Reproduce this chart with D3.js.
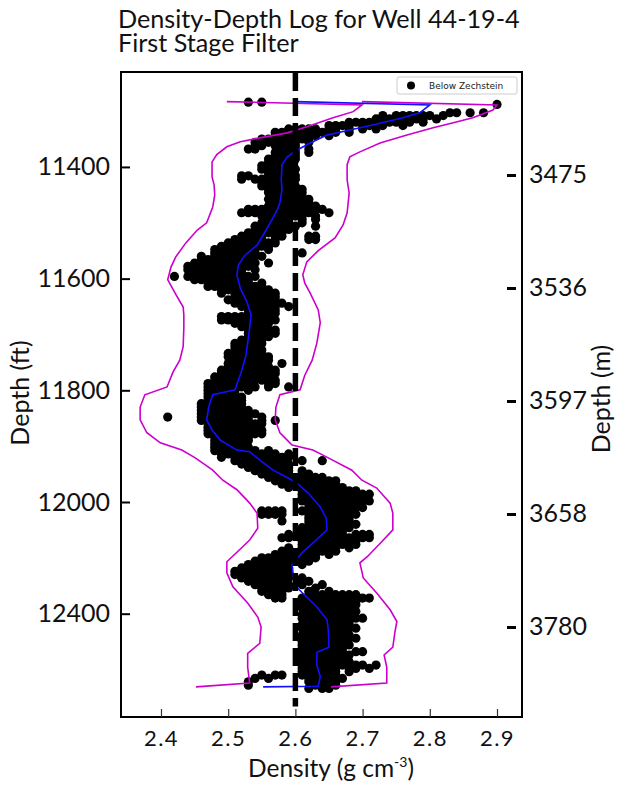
<!DOCTYPE html>
<html><head><meta charset="utf-8">
<script src="https://cdn.jsdelivr.net/npm/d3@7"></script>
<style>body{margin:0;background:#fff}svg{display:block}</style>
</head><body>
<svg id="chart" width="617" height="789"></svg>
<script>
// ---------------- data ----------------
const titleLines = ["Density-Depth Log for Well 44-19-4", "First Stage Filter"];
const xTickValues = [2.4, 2.5, 2.6, 2.7, 2.8, 2.9];
const ftTickValues = [11400, 11600, 11800, 12000, 12200];
const ftTickLabels = ["11400", "11600", "11800", "12000", "12400"];
const mTickValues = [3475, 3536, 3597, 3658, 3719];
const mTickLabels = ["3475", "3536", "3597", "3658", "3780"];
const legendLabel = "Below Zechstein";
const refDensity = 2.6;
const refDepthRange = [11232, 12366];

// density samples: [depth ft, [densities g/cc]]
const sampleRows = [
[11284,[2.53,2.55]],[11288,[2.90]],[11303,[2.83,2.84,2.86,2.88]],
[11308,[2.73,2.75,2.76,2.77,2.78,2.79,2.80,2.82]],
[11314,[2.72,2.73,2.74,2.76,2.78,2.79,2.81]],
[11320,[2.68,2.69,2.70,2.71,2.72,2.74,2.75,2.77,2.79]],
[11326,[2.65,2.66,2.67,2.68,2.70,2.71,2.73,2.76]],
[11332,[2.59,2.60,2.61,2.62,2.63,2.65,2.66,2.68,2.70,2.72]],
[11338,[2.57,2.58,2.59,2.61,2.62,2.63,2.64,2.66,2.68]],
[11344,[2.57,2.58,2.59,2.60,2.61,2.62,2.63,2.65]],
[11350,[2.55,2.56,2.57,2.58,2.59,2.60,2.61,2.62]],
[11356,[2.54,2.55,2.56,2.57,2.58,2.59,2.60,2.62]],
[11362,[2.54,2.55,2.57,2.58,2.59,2.60]],
[11368,[2.53,2.54,2.58,2.59,2.60,2.62]],
[11374,[2.57,2.58,2.59,2.60,2.62]],
[11380,[2.57,2.58,2.59,2.60]],
[11386,[2.56,2.57,2.58,2.59,2.60]],
[11392,[2.56,2.57,2.58,2.59]],
[11398,[2.55,2.56,2.58,2.59]],
[11404,[2.55,2.56,2.57,2.59,2.60]],
[11410,[2.56,2.57,2.58,2.59]],
[11416,[2.52,2.53,2.56,2.57,2.58,2.59,2.60]],
[11422,[2.52,2.54,2.55,2.57,2.58,2.59,2.60]],
[11428,[2.55,2.56,2.57,2.58,2.59]],
[11434,[2.55,2.56,2.57,2.59,2.60]],
[11440,[2.56,2.57,2.58,2.59,2.60,2.61]],
[11446,[2.56,2.57,2.58,2.59,2.61]],
[11452,[2.57,2.58,2.59,2.60,2.61]],
[11458,[2.56,2.57,2.58,2.60,2.61,2.62]],
[11464,[2.57,2.58,2.59,2.60,2.62]],
[11470,[2.56,2.58,2.59,2.60,2.61,2.63]],
[11476,[2.53,2.54,2.55,2.56,2.57,2.58,2.59,2.60,2.62,2.63,2.64]],
[11482,[2.52,2.53,2.54,2.56,2.58,2.59,2.61,2.62,2.65]],
[11488,[2.55,2.56,2.57,2.58,2.60,2.61,2.63]],
[11494,[2.56,2.57,2.58,2.59,2.61,2.63]],
[11500,[2.55,2.56,2.57,2.58,2.59,2.61]],
[11506,[2.54,2.55,2.57,2.58,2.60,2.63]],
[11512,[2.54,2.55,2.56,2.57,2.58,2.59]],
[11518,[2.53,2.54,2.55,2.56,2.57,2.58]],
[11524,[2.52,2.53,2.54,2.55,2.57,2.58,2.62,2.63]],
[11530,[2.51,2.52,2.53,2.54,2.55,2.57,2.62,2.63]],
[11536,[2.50,2.51,2.52,2.53,2.54,2.55,2.56,2.57]],
[11542,[2.49,2.50,2.51,2.52,2.54,2.55,2.56]],
[11548,[2.48,2.49,2.50,2.52,2.53,2.54,2.56]],
[11554,[2.48,2.49,2.50,2.51,2.53,2.54,2.61]],
[11560,[2.46,2.48,2.49,2.50,2.51,2.52,2.54,2.55]],
[11566,[2.46,2.47,2.48,2.49,2.50,2.52,2.53]],
[11572,[2.45,2.46,2.47,2.49,2.50,2.51,2.53,2.54,2.56]],
[11578,[2.44,2.45,2.46,2.47,2.48,2.50,2.51,2.52,2.53]],
[11584,[2.44,2.45,2.47,2.48,2.49,2.50,2.52,2.54]],
[11590,[2.45,2.46,2.47,2.49,2.50,2.51,2.52]],
[11596,[2.42,2.44,2.45,2.46,2.48,2.49,2.50,2.51,2.53,2.54]],
[11602,[2.45,2.46,2.47,2.48,2.49,2.51,2.52,2.53]],
[11608,[2.47,2.48,2.49,2.50,2.52,2.53,2.55]],
[11614,[2.47,2.48,2.50,2.51,2.52,2.54,2.55]],
[11620,[2.49,2.50,2.51,2.52,2.53,2.55,2.56]],
[11626,[2.49,2.51,2.52,2.53,2.54,2.56,2.57]],
[11632,[2.51,2.52,2.53,2.54,2.55,2.57]],
[11638,[2.50,2.52,2.53,2.54,2.56,2.57]],
[11644,[2.51,2.52,2.54,2.55,2.56,2.58]],
[11650,[2.52,2.53,2.54,2.55,2.57,2.59]],
[11656,[2.53,2.54,2.55,2.56,2.57]],
[11662,[2.53,2.54,2.56,2.57]],
[11668,[2.49,2.50,2.51,2.52,2.53,2.54,2.55,2.56]],
[11674,[2.49,2.50,2.51,2.53,2.54,2.55,2.56,2.57]],
[11680,[2.51,2.52,2.53,2.54,2.56]],
[11686,[2.52,2.53,2.54,2.55]],
[11692,[2.53,2.54,2.55,2.56,2.57]],
[11698,[2.53,2.54,2.55,2.57]],
[11704,[2.53,2.54,2.55,2.56]],
[11710,[2.52,2.53,2.54,2.55]],
[11716,[2.51,2.52,2.53,2.54,2.55]],
[11722,[2.51,2.52,2.53,2.54]],
[11728,[2.51,2.52,2.53,2.54,2.55]],
[11734,[2.50,2.51,2.52,2.54,2.55]],
[11740,[2.50,2.51,2.52,2.53,2.55,2.56]],
[11746,[2.51,2.52,2.53,2.54,2.56]],
[11752,[2.50,2.51,2.53,2.54,2.55,2.58]],
[11758,[2.50,2.51,2.52,2.53,2.55,2.56]],
[11764,[2.49,2.50,2.52,2.53,2.54,2.56,2.57]],
[11770,[2.49,2.50,2.51,2.53,2.54,2.55,2.57]],
[11776,[2.48,2.49,2.50,2.52,2.53,2.54,2.56]],
[11782,[2.48,2.49,2.50,2.51,2.52,2.54,2.55,2.57]],
[11788,[2.47,2.48,2.49,2.50,2.52,2.53,2.56,2.57]],
[11794,[2.47,2.48,2.50,2.51,2.52,2.54,2.56,2.59]],
[11800,[2.47,2.48,2.49,2.50,2.51,2.53]],
[11806,[2.47,2.48,2.49,2.50,2.51]],
[11812,[2.47,2.48,2.49,2.50,2.51,2.52]],
[11818,[2.47,2.48,2.49,2.51,2.52]],
[11824,[2.46,2.47,2.48,2.49,2.50,2.52]],
[11830,[2.46,2.47,2.48,2.50,2.51,2.52]],
[11836,[2.46,2.47,2.48,2.49,2.50,2.51,2.53]],
[11842,[2.46,2.47,2.49,2.50,2.51,2.52,2.54]],
[11848,[2.41,2.46,2.47,2.48,2.49,2.51,2.52,2.53,2.55]],
[11854,[2.46,2.47,2.48,2.50,2.51,2.53,2.55,2.57]],
[11860,[2.47,2.48,2.49,2.51,2.52,2.54,2.55]],
[11866,[2.47,2.48,2.50,2.51,2.53,2.54]],
[11872,[2.47,2.48,2.49,2.50,2.52,2.53,2.55]],
[11878,[2.47,2.48,2.49,2.51,2.52,2.54,2.55]],
[11884,[2.48,2.49,2.50,2.52,2.53]],
[11890,[2.48,2.49,2.50,2.51,2.53]],
[11896,[2.48,2.49,2.50,2.52]],
[11902,[2.48,2.49,2.51,2.52,2.53]],
[11908,[2.48,2.49,2.50,2.51,2.53,2.54,2.56]],
[11914,[2.49,2.50,2.51,2.52,2.54,2.55,2.57,2.59]],
[11920,[2.49,2.51,2.52,2.53,2.55,2.56,2.58,2.59]],
[11926,[2.51,2.52,2.53,2.54,2.56,2.57,2.58,2.61,2.64]],
[11932,[2.52,2.53,2.54,2.55,2.57,2.58,2.59]],
[11938,[2.53,2.54,2.55,2.56,2.57,2.58,2.59]],
[11944,[2.54,2.55,2.56,2.57,2.58,2.59,2.61]],
[11950,[2.55,2.56,2.57,2.58,2.59,2.61,2.62]],
[11956,[2.56,2.57,2.58,2.59,2.61,2.62,2.63,2.64]],
[11962,[2.57,2.58,2.59,2.61,2.62,2.63,2.64,2.65,2.66]],
[11968,[2.58,2.59,2.61,2.62,2.63,2.64,2.65,2.66]],
[11974,[2.59,2.61,2.62,2.63,2.64,2.65,2.67]],
[11980,[2.61,2.62,2.63,2.64,2.65,2.66,2.67,2.68,2.69]],
[11986,[2.61,2.62,2.63,2.65,2.66,2.67,2.68,2.70,2.71]],
[11992,[2.61,2.62,2.64,2.65,2.66,2.68,2.69,2.70]],
[11998,[2.61,2.63,2.64,2.65,2.67,2.68,2.70,2.71]],
[12004,[2.62,2.63,2.64,2.66,2.67,2.68,2.69]],
[12010,[2.62,2.63,2.65,2.66,2.67,2.69,2.70]],
[12016,[2.55,2.56,2.57,2.58,2.61,2.62,2.64,2.65,2.66,2.68]],
[12022,[2.55,2.56,2.57,2.58,2.62,2.63,2.64,2.66,2.67,2.69]],
[12028,[2.62,2.63,2.65,2.66,2.67,2.68]],
[12034,[2.58,2.62,2.63,2.64,2.65,2.67,2.68]],
[12040,[2.62,2.64,2.65,2.66,2.67,2.69]],
[12046,[2.61,2.62,2.63,2.65,2.66,2.68]],
[12052,[2.61,2.62,2.64,2.65,2.66,2.67]],
[12058,[2.59,2.61,2.62,2.63,2.64,2.65,2.67,2.69,2.70,2.71]],
[12064,[2.58,2.59,2.61,2.62,2.63,2.64,2.66,2.67,2.68,2.70,2.71]],
[12070,[2.61,2.62,2.63,2.65,2.66,2.68,2.69]],
[12076,[2.61,2.62,2.63,2.64,2.66,2.67,2.69]],
[12082,[2.59,2.61,2.62,2.64,2.65,2.66,2.68]],
[12088,[2.58,2.59,2.61,2.62,2.63,2.64,2.66]],
[12094,[2.57,2.58,2.59,2.61,2.62,2.63,2.65]],
[12100,[2.55,2.56,2.57,2.58,2.59,2.61,2.62,2.63]],
[12106,[2.54,2.55,2.56,2.57,2.58,2.59,2.61,2.62]],
[12112,[2.53,2.54,2.55,2.56,2.57,2.58,2.59,2.61]],
[12118,[2.52,2.53,2.54,2.55,2.56,2.58,2.59]],
[12124,[2.51,2.52,2.53,2.54,2.56,2.57,2.58]],
[12130,[2.51,2.52,2.53,2.54,2.55,2.57,2.58,2.59]],
[12136,[2.52,2.53,2.54,2.55,2.56,2.58,2.59,2.61]],
[12142,[2.53,2.54,2.55,2.57,2.58,2.61,2.62]],
[12148,[2.54,2.55,2.56,2.57,2.58,2.59,2.61,2.64]],
[12154,[2.55,2.56,2.57,2.58,2.59,2.63]],
[12160,[2.55,2.56,2.57,2.58,2.62,2.65]],
[12166,[2.56,2.57,2.58,2.62,2.63,2.64,2.65,2.66,2.67,2.68,2.69]],
[12172,[2.57,2.58,2.61,2.62,2.63,2.65,2.66,2.67,2.68,2.70,2.71]],
[12178,[2.61,2.62,2.63,2.64,2.65,2.66,2.68,2.69]],
[12184,[2.61,2.62,2.64,2.65,2.66,2.67,2.69]],
[12190,[2.61,2.62,2.63,2.64,2.66,2.67,2.68]],
[12196,[2.62,2.63,2.64,2.65,2.67,2.68,2.69]],
[12202,[2.61,2.62,2.63,2.65,2.66,2.67,2.68]],
[12208,[2.61,2.62,2.64,2.65,2.66,2.67,2.69,2.70]],
[12214,[2.62,2.63,2.64,2.65,2.67,2.68]],
[12220,[2.61,2.62,2.63,2.65,2.66,2.67,2.68]],
[12226,[2.61,2.63,2.64,2.65,2.66,2.68,2.69]],
[12232,[2.62,2.63,2.64,2.66,2.67]],
[12238,[2.61,2.62,2.64,2.65,2.66,2.67,2.68]],
[12244,[2.61,2.62,2.63,2.65,2.66,2.68,2.69]],
[12250,[2.61,2.62,2.63,2.64,2.65,2.67]],
[12256,[2.61,2.62,2.63,2.64,2.66,2.67,2.68]],
[12262,[2.61,2.62,2.63,2.65,2.66,2.67]],
[12268,[2.61,2.62,2.63,2.64,2.65,2.67,2.69,2.70]],
[12274,[2.61,2.62,2.63,2.64,2.66,2.67,2.68]],
[12280,[2.61,2.62,2.63,2.65,2.66,2.67]],
[12286,[2.61,2.62,2.63,2.64,2.66,2.67,2.68]],
[12292,[2.61,2.62,2.63,2.64,2.65,2.67,2.68,2.69,2.70,2.72]],
[12298,[2.61,2.62,2.63,2.64,2.65,2.66,2.68,2.69,2.71]],
[12304,[2.61,2.62,2.63,2.64,2.65,2.66,2.68]],
[12310,[2.55,2.57,2.58,2.61,2.62,2.63,2.64,2.65,2.66]],
[12316,[2.54,2.56,2.62,2.63,2.64,2.65,2.67]],
[12322,[2.53,2.62,2.63,2.64,2.65,2.66]],
[12328,[2.53,2.63,2.64,2.65,2.66]],
[12334,[2.62,2.64,2.65]]
];

// running mean profile [depth ft, density]
const meanProfile = [
[11283,2.600],[11289,2.800],[11303,2.785],[11312,2.760],[11325,2.715],[11334,2.681],[11343,2.647],
[11357,2.622],[11370,2.602],[11382,2.588],[11396,2.580],[11423,2.579],[11441,2.580],[11464,2.577],
[11477,2.573],[11495,2.565],[11516,2.555],[11540,2.543],[11558,2.525],[11576,2.515],[11593,2.513],
[11617,2.518],[11642,2.528],[11665,2.534],[11688,2.532],[11715,2.529],[11740,2.526],[11769,2.519],
[11799,2.510],[11808,2.477],[11830,2.471],[11853,2.468],[11871,2.476],[11889,2.488],[11907,2.513],
[11910,2.532],[11925,2.547],[11943,2.567],[11957,2.589],[11966,2.602],[11984,2.619],[12009,2.637],
[12029,2.646],[12050,2.647],[12068,2.631],[12091,2.610],[12113,2.595],[12149,2.599],[12167,2.614],
[12188,2.632],[12211,2.647],[12229,2.649],[12260,2.650],[12269,2.632],[12292,2.632],[12313,2.637],
[12330,2.634],[12331,2.552]
];

// lower envelope [depth ft, density]
const lowerEnvelope = [
[11283,2.498],[11289,2.699],[11301,2.686],[11312,2.656],[11328,2.617],[11339,2.588],[11348,2.547],
[11355,2.518],[11364,2.498],[11378,2.483],[11391,2.476],[11418,2.476],[11432,2.479],[11450,2.480],
[11472,2.477],[11500,2.468],[11513,2.454],[11536,2.437],[11561,2.422],[11579,2.415],[11602,2.410],
[11626,2.421],[11651,2.433],[11665,2.434],[11688,2.434],[11722,2.433],[11746,2.428],[11767,2.418],
[11794,2.409],[11808,2.376],[11830,2.369],[11853,2.369],[11876,2.379],[11894,2.399],[11907,2.431],
[11921,2.451],[11943,2.477],[11961,2.492],[11978,2.513],[12002,2.532],[12020,2.543],[12047,2.544],
[12068,2.532],[12090,2.513],[12107,2.498],[12127,2.498],[12152,2.507],[12181,2.529],[12206,2.544],
[12224,2.549],[12253,2.547],[12271,2.529],[12296,2.529],[12324,2.532],[12331,2.452]
];

// upper envelope [depth ft, density]
const upperEnvelope = [
[11283,2.699],[11289,2.900],[11298,2.894],[11312,2.864],[11321,2.835],[11330,2.805],[11343,2.766],
[11357,2.726],[11373,2.696],[11382,2.681],[11396,2.677],[11423,2.677],[11447,2.680],[11482,2.677],
[11504,2.671],[11527,2.659],[11550,2.634],[11570,2.617],[11593,2.611],[11608,2.614],[11626,2.622],
[11656,2.634],[11679,2.637],[11715,2.632],[11746,2.625],[11773,2.614],[11799,2.607],[11808,2.577],
[11830,2.571],[11853,2.570],[11876,2.577],[11898,2.595],[11907,2.626],[11921,2.649],[11943,2.684],
[11961,2.699],[11975,2.721],[12002,2.741],[12020,2.745],[12050,2.745],[12073,2.727],[12098,2.707],
[12109,2.696],[12136,2.701],[12163,2.721],[12193,2.741],[12214,2.751],[12234,2.748],[12260,2.745],
[12274,2.732],[12296,2.736],[12324,2.736],[12331,2.653]
];

// ---------------- drawing ----------------
const svg = d3.select("#chart");
const FONT = "Lato, 'Open Sans', sans-serif";
const frame = {left: 121, right: 522, top: 72, bottom: 717};

const x = d3.scaleLinear().domain([2.3405, 2.9372]).range([frame.left, frame.right]);
const yFt = d3.scaleLinear().domain([11230, 12385]).range([frame.top, frame.bottom]);
const yM = d3.scaleLinear().domain([3419.4, 3767.6]).range([frame.top, frame.bottom]);

// points
const points = sampleRows.flatMap(([depth, dens]) => dens.map(d => ({depth, d})));
svg.append("g").selectAll("circle").data(points).join("circle")
  .attr("cx", p => x(p.d)).attr("cy", p => yFt(p.depth)).attr("r", 4.6)
  .attr("fill", "#000");

const line = d3.line().x(p => x(p[1])).y(p => yFt(p[0]));

svg.append("path").datum(lowerEnvelope).attr("d", line)
  .attr("fill", "none").attr("stroke", "#cc00cc").attr("stroke-width", 1.6);
svg.append("path").datum(upperEnvelope).attr("d", line)
  .attr("fill", "none").attr("stroke", "#cc00cc").attr("stroke-width", 1.6);
svg.append("path").datum(meanProfile).attr("d", line)
  .attr("fill", "none").attr("stroke", "#1010ff").attr("stroke-width", 1.6);

// reference dashed line
svg.append("line")
  .attr("x1", x(refDensity)).attr("x2", x(refDensity))
  .attr("y1", yFt(refDepthRange[0])).attr("y2", yFt(refDepthRange[1]))
  .attr("stroke", "#000").attr("stroke-width", 5.5).attr("stroke-dasharray", "18,7");

// frame
svg.append("rect")
  .attr("x", frame.left).attr("y", frame.top)
  .attr("width", frame.right - frame.left).attr("height", frame.bottom - frame.top)
  .attr("fill", "none").attr("stroke", "#000").attr("stroke-width", 2);

// left axis (ft)
const gL = svg.append("g").attr("transform", `translate(${frame.left},0)`)
  .call(d3.axisLeft(yFt).tickValues(ftTickValues).tickFormat((d, i) => ftTickLabels[i])
    .tickSizeInner(-9).tickSizeOuter(0).tickPadding(11));
gL.select(".domain").remove();
gL.selectAll(".tick line").attr("stroke", "#000").attr("stroke-width", 2);
gL.selectAll(".tick text").attr("font-family", FONT).attr("font-size", 25).attr("fill", "#111");

// bottom axis
const gB = svg.append("g").attr("transform", `translate(0,${frame.bottom})`)
  .call(d3.axisBottom(x).tickValues(xTickValues).tickFormat(d3.format(".1f"))
    .tickSizeInner(-8).tickSizeOuter(0).tickPadding(13));
gB.select(".domain").remove();
gB.selectAll(".tick line").attr("stroke", "#333").attr("stroke-width", 1.2);
gB.selectAll(".tick text").attr("font-family", FONT).attr("font-size", 22)
  .attr("letter-spacing", 1.5).attr("fill", "#111");

// right axis (m)
const gR = svg.append("g").attr("transform", `translate(${frame.right},0)`)
  .call(d3.axisRight(yM).tickValues(mTickValues).tickFormat((d, i) => mTickLabels[i])
    .tickSize(0).tickPadding(7));
gR.select(".domain").remove();
gR.selectAll(".tick").append("line").attr("x1", -15).attr("x2", -6)
  .attr("stroke", "#000").attr("stroke-width", 3);
gR.selectAll(".tick text").attr("font-family", FONT).attr("font-size", 25).attr("fill", "#111");

// title (one text element, two lines)
const title = svg.append("text").attr("font-family", FONT).attr("font-size", 25.2).attr("fill", "#111");
title.selectAll("tspan").data(titleLines).join("tspan")
  .attr("x", frame.left - 3).attr("y", (d, i) => 28 + i * 24).text(d => d);

// axis labels
svg.append("text").attr("transform", "translate(29,393) rotate(-90)")
  .attr("text-anchor", "middle").attr("font-family", FONT).attr("font-size", 25)
  .attr("fill", "#111").text("Depth (ft)");
svg.append("text").attr("transform", "translate(610,399) rotate(-90)")
  .attr("text-anchor", "middle").attr("font-family", FONT).attr("font-size", 25)
  .attr("fill", "#111").text("Depth (m)");
const xl = svg.append("text").attr("x", 331).attr("y", 777).attr("text-anchor", "middle")
  .attr("font-family", FONT).attr("font-size", 24.5).attr("fill", "#111");
xl.append("tspan").text("Density (g cm");
xl.append("tspan").attr("font-size", 14).attr("dy", -10).text("-3");
xl.append("tspan").attr("dy", 10).text(")");

// legend
const lg = svg.append("g").attr("transform", `translate(${frame.right - 125},${frame.top + 5})`);
lg.append("rect").attr("width", 120).attr("height", 17).attr("rx", 2)
  .attr("fill", "#fff").attr("stroke", "#cccccc").attr("stroke-width", 1);
lg.append("circle").attr("cx", 14).attr("cy", 8.5).attr("r", 4).attr("fill", "#000");
lg.append("text").attr("x", 32).attr("y", 12.3).attr("font-family", "'DejaVu Sans', sans-serif")
  .attr("font-size", 9).attr("fill", "#222").text(legendLabel);
</script>
</body></html>
